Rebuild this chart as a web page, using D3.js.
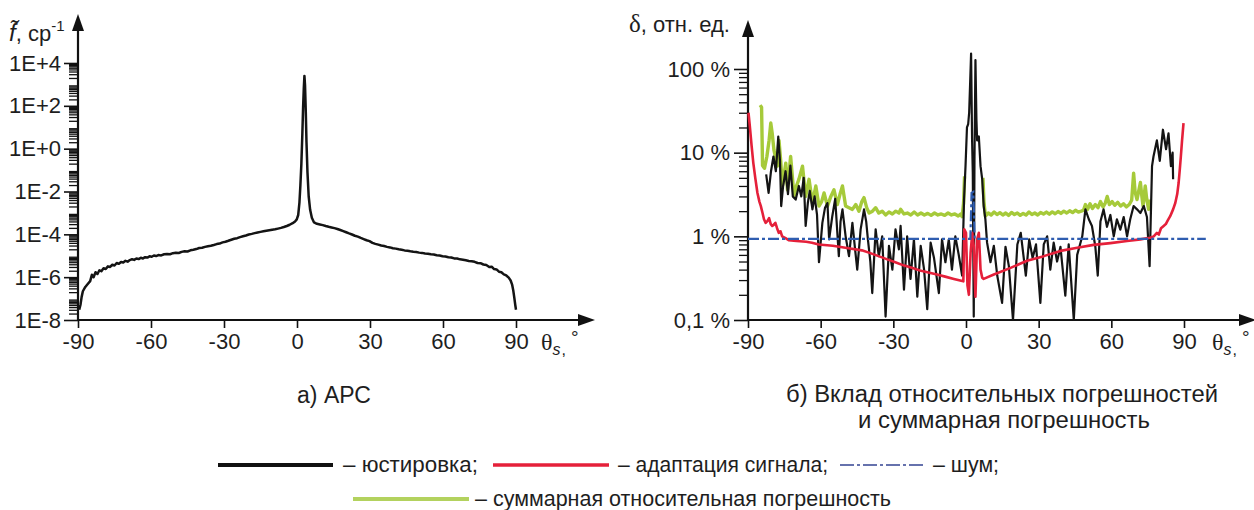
<!DOCTYPE html>
<html><head><meta charset="utf-8">
<script src="https://cdn.jsdelivr.net/npm/d3@7"></script>
<style>
html,body{margin:0;padding:0;background:#fff;}
svg{display:block;}
text{font-family:"Liberation Sans",Arial,Helvetica,sans-serif;fill:#1e1e1e;}
</style></head><body>
<svg id="chart" width="1254" height="510"></svg>
<script>
// ---------- data ----------
const xTicks = [-90, -60, -30, 0, 30, 60, 90];
const xTickLabels = ["-90", "-60", "-30", "0", "30", "60", "90"];
const apcTicks = [1e-8, 1e-6, 1e-4, 1e-2, 1, 1e2, 1e4];
const apcTickLabels = ["1E-8", "1E-6", "1E-4", "1E-2", "1E+0", "1E+2", "1E+4"];
const errTicks = [0.1, 1, 10, 100];
const errTickLabels = ["0,1 %", "1 %", "10 %", "100 %"];

// APC, sr^-1 vs theta_s, deg
const apc = [[-89.5,3.0e-8],[-89.0,5e-8],[-88.5,1.2e-7],[-88.0,2.2e-7],[-87.0,3.5e-7],[-86.0,4.8e-7],[-85.0,6.5e-7],[-84.3,1.3e-6],[-83.6,1.0e-6],[-82.8,1.7e-6],[-82.0,1.4e-6],[-81.2,2.1e-6],[-80.4,1.9e-6],[-79.5,2.6e-6],[-78.6,2.4e-6],[-77.7,3.2e-6],[-76.8,3.0e-6],[-75.9,3.8e-6],[-75.0,3.5e-6],[-74.1,4.6e-6],[-73.2,4.2e-6],[-72.3,5.1e-6],[-71.4,4.8e-6],[-70.5,5.8e-6],[-69.6,5.3e-6],[-68.7,6.3e-6],[-67.8,6.9e-6],[-66.9,6.4e-6],[-66.0,7.4e-6],[-65.1,7.0e-6],[-64.2,8.0e-6],[-63.3,7.5e-6],[-62.4,8.6e-6],[-61.5,8.2e-6],[-60.6,9.4e-6],[-59.7,9.0e-6],[-58.8,1.03e-5],[-57.9,9.7e-6],[-57.0,1.08e-5],[-55.8,1.04e-5],[-54.6,1.17e-5],[-53.4,1.22e-5],[-52.2,1.18e-5],[-51.0,1.32e-5],[-49.8,1.38e-5],[-48.6,1.35e-5],[-47.4,1.52e-5],[-46.2,1.62e-5],[-45.0,1.58e-5],[-43.8,1.80e-5],[-42.6,1.9e-5],[-41.4,2.05e-5],[-40.2,2.3e-5],[-39.0,2.35e-5],[-37.8,2.6e-5],[-36.6,2.8e-5],[-35.4,2.95e-5],[-34.2,3.2e-5],[-33.0,3.5e-5],[-31.8,3.7e-5],[-30.6,4.2e-5],[-29.4,4.5e-5],[-28.2,5.0e-5],[-27.0,5.6e-5],[-25.8,6.2e-5],[-24.6,6.6e-5],[-23.4,7.4e-5],[-22.2,8.1e-5],[-21.0,8.8e-5],[-19.8,9.8e-5],[-18.6,1.05e-4],[-17.4,1.14e-4],[-16.2,1.22e-4],[-15.0,1.3e-4],[-13.8,1.38e-4],[-12.6,1.46e-4],[-11.4,1.55e-4],[-10.2,1.65e-4],[-9.0,1.72e-4],[-7.8,1.85e-4],[-6.6,2.0e-4],[-5.4,2.2e-4],[-4.2,2.45e-4],[-3.0,2.8e-4],[-1.8,3.3e-4],[-0.8,4.0e-4],[-0.1,5.0e-4],[0.5,8e-4],[1.0,3e-3],[1.4,2e-2],[1.8,0.2],[2.2,5],[2.5,80],[2.8,700],[3.05,2500],[3.3,900],[3.6,60],[3.9,2],[4.3,0.08],[4.8,6e-3],[5.4,1.4e-3],[6.1,6e-4],[7.0,3.6e-4],[8.2,3.1e-4],[9.4,2.9e-4],[10.6,2.7e-4],[11.8,2.45e-4],[13.0,2.25e-4],[14.2,2.1e-4],[15.4,1.95e-4],[16.6,1.78e-4],[17.8,1.6e-4],[19.0,1.42e-4],[20.2,1.25e-4],[21.4,1.1e-4],[22.6,9.8e-5],[23.8,8.6e-5],[25.0,7.8e-5],[26.2,6.8e-5],[27.4,6.0e-5],[28.6,5.3e-5],[29.8,4.8e-5],[31.0,4.0e-5],[32.2,3.6e-5],[33.4,3.3e-5],[34.6,3.0e-5],[35.8,2.85e-5],[37.0,2.6e-5],[38.2,2.45e-5],[39.4,2.25e-5],[40.6,2.15e-5],[41.8,2.0e-5],[43.0,1.9e-5],[44.2,1.78e-5],[45.4,1.72e-5],[46.6,1.62e-5],[47.8,1.55e-5],[49.0,1.5e-5],[50.2,1.4e-5],[51.4,1.36e-5],[52.6,1.28e-5],[53.8,1.25e-5],[55.0,1.17e-5],[56.2,1.14e-5],[57.4,1.06e-5],[58.6,1.03e-5],[59.8,9.5e-6],[61.0,9.3e-6],[62.2,8.5e-6],[63.4,8.3e-6],[64.6,7.5e-6],[65.8,7.4e-6],[67.0,6.8e-6],[68.2,6.5e-6],[69.4,6.1e-6],[70.6,5.7e-6],[71.8,5.5e-6],[73.0,5.2e-6],[74.2,4.6e-6],[75.4,4.5e-6],[76.6,3.9e-6],[77.8,3.7e-6],[79.0,3.0e-6],[80.0,3.1e-6],[81.0,2.4e-6],[82.0,2.3e-6],[83.0,1.8e-6],[84.0,1.7e-6],[85.0,1.35e-6],[86.0,1.2e-6],[87.0,9.5e-7],[87.8,7e-7],[88.4,4.5e-7],[88.9,2.3e-7],[89.3,1.1e-7],[89.7,5e-8],[90.0,3e-8]];

// relative errors, %
const alignErr = [[-82.5,5.5],[-81.5,3.3],[-80.5,6],[-79.5,9],[-78.5,6],[-77.5,15.6],[-76.8,8],[-76.3,2.3],[-75.5,4],[-74.5,6],[-73.5,3.2],[-72.5,7],[-71.5,3],[-70.3,2.75],[-69,4],[-68,3],[-67,5],[-66.2,1.33],[-65.3,2.5],[-64.5,3.5],[-63.4,2.1],[-62.5,3],[-61.5,1.8],[-60.7,0.49],[-59.3,1.45],[-58.2,2.2],[-57.2,2.5],[-56.5,0.92],[-55.2,1.74],[-54,2.8],[-53.2,1.2],[-52.5,0.58],[-51.8,1.5],[-51,2.1],[-49.7,1.0],[-48.3,0.58],[-46.9,1.45],[-46,0.8],[-44.9,0.40],[-43.5,1.21],[-42.1,2.1],[-41.2,1.5],[-40.5,0.92],[-39.5,0.5],[-38.7,0.21],[-37.3,1.21],[-36,0.58],[-34.6,1.0],[-33.2,0.11],[-31.8,0.77],[-30.4,0.40],[-29.1,1.21],[-27.7,0.70],[-27.0,1.33],[-25.6,0.23],[-24.3,1.0],[-22.9,0.31],[-21.5,0.92],[-20.1,0.19],[-18.7,0.77],[-17.3,0.4],[-16,0.135],[-14.6,0.84],[-13.2,0.55],[-11.2,0.21],[-9.9,0.92],[-8.5,0.49],[-7.1,0.92],[-5.8,0.4],[-4.4,1.0],[-3.0,0.6],[-1.6,0.34],[-0.8,2.8],[-0.2,6.9],[0.4,20],[0.9,22],[1.3,30],[1.7,67],[2.1,153],[2.5,15],[2.8,5.8],[3.2,0.11],[3.5,8],[3.9,128],[4.3,25],[4.6,14],[5.3,15.6],[6.0,6.9],[6.7,4.8],[7.3,2.3],[8.0,1.6],[8.7,0.84],[10.1,0.49],[11.5,0.77],[12.9,0.34],[14.9,0.16],[16.3,0.75],[17.7,0.44],[19.4,0.1],[21.2,0.8],[22.6,1.1],[24.7,0.34],[26.1,0.92],[27.5,0.55],[28.9,0.8],[30.7,0.16],[32.1,0.8],[33.5,1.0],[34.8,0.4],[36.2,0.84],[37.6,0.5],[39,0.75],[41,0.195],[42.4,0.8],[44.5,0.1],[45.9,0.6],[48,1.0],[49.3,2.1],[50.7,1.6],[52,1.33],[53.4,0.75],[54.4,0.34],[55.5,1.5],[56.8,2.1],[58.2,1.3],[59.6,1.8],[61,1.0],[62.3,1.6],[63.7,1.2],[65.1,1.7],[66.5,1.0],[67.8,1.6],[69.2,2.3],[70.6,2.1],[72,1.9],[73.4,2.3],[74.7,1.7],[75.8,0.44],[76.8,6.9],[77.4,9],[78.8,14],[80,8],[81.3,18.8],[82.6,11],[83.6,17],[84.6,6.9],[85.3,10],[85.5,4.8]];

const adaptErr = [[-89.8,30],[-89.2,20],[-88.5,12],[-87.8,7.5],[-87,5],[-86.1,3.3],[-85.3,2.6],[-84.7,2.3],[-84,1.9],[-83.4,1.6],[-82.7,1.45],[-82,1.52],[-81.3,1.65],[-80.6,1.4],[-80,1.33],[-79.3,1.38],[-78.7,1.45],[-78,1.25],[-77.3,1.1],[-76.6,1.15],[-75.9,1.0],[-74.5,0.95],[-73.2,0.9],[-70,0.88],[-66,0.86],[-63.6,0.84],[-60.8,0.8],[-55,0.77],[-49.8,0.73],[-43,0.68],[-39.5,0.63],[-36.1,0.58],[-32.5,0.53],[-29.2,0.49],[-25.8,0.45],[-22.4,0.42],[-19,0.39],[-15.5,0.37],[-12,0.35],[-8.6,0.33],[-5,0.31],[-1.1,0.29],[-0.7,1.21],[0,1.1],[0.6,0.26],[1.2,0.2],[1.9,0.64],[2.6,1.1],[3.2,0.77],[3.9,0.19],[4.6,0.92],[5.3,1.1],[6.0,0.4],[6.7,0.32],[7.3,0.31],[11.5,0.35],[18.4,0.42],[25.2,0.51],[32.1,0.58],[39,0.67],[45.9,0.73],[52.7,0.79],[59.6,0.83],[66.5,0.88],[72,0.92],[74.5,0.95],[76,0.96],[77.5,1.0],[78.8,1.1],[79.6,1.05],[80.5,1.25],[81.6,1.33],[82.5,1.4],[83.3,1.55],[84.3,1.74],[85.5,2.1],[86.4,2.5],[87.2,3.2],[87.8,4.4],[88.3,6.5],[88.7,9],[89.2,14],[89.8,22.6]];

const noiseErr = [[-90,0.93],[1.8,0.93],[2.3,3.3],[3.0,3.4],[3.6,0.93],[99,0.93]];

const totalErrLeft = [[-85,37],[-84.4,35],[-84.0,7],[-83.2,6.5],[-82.2,9],[-81.3,14],[-80.6,22.6],[-80.0,17],[-79.3,10.8],[-77.9,6.9],[-77.2,14],[-76.5,8],[-75.8,4],[-74.4,7.5],[-73.7,3.6],[-72.4,9],[-71,3],[-70,4],[-69,4.8],[-67.5,6.9],[-66.2,3],[-64.8,4.8],[-63.4,2.5],[-62,4],[-60.7,2.3],[-59.6,2.6],[-58.6,3.3],[-57.2,2.3],[-55.8,3],[-54.5,3.6],[-53.1,2.4],[-52,3.2],[-51,4],[-49.7,2.3],[-48.3,2.2],[-46.9,2.1],[-45.5,2.4],[-44.2,2.0],[-43,2.6],[-42.1,2.9],[-41,2.2],[-40,1.9],[-38.6,2.0],[-37.3,2.2],[-36,1.9],[-34.6,2.0],[-33.2,1.8],[-31.8,1.95],[-30.4,1.85],[-29,2.0],[-27.7,1.9],[-27,2.1],[-25.6,1.85],[-24.2,1.9],[-22.8,1.8],[-21.4,1.95],[-20,1.8],[-18.6,1.9],[-17.2,1.8],[-15.8,1.88],[-14.4,1.78],[-13,1.9],[-11.6,1.8],[-10.2,1.85],[-8.8,1.78],[-7.4,1.9],[-6,1.8],[-4.6,1.85],[-3.2,1.75],[-2.2,1.85],[-1.6,1.72],[-1.0,2.5],[-0.6,5.2]];
const totalErrRight = [[7.0,5.0],[7.4,2.6],[8.0,1.75],[9.2,1.9],[10.4,1.8],[11.6,1.95],[12.8,1.82],[14.0,1.92],[15.2,1.8],[16.4,1.9],[17.6,1.78],[18.8,1.93],[20.0,1.82],[21.2,1.9],[22.4,1.78],[23.6,1.88],[24.8,1.8],[26.0,1.95],[27.2,1.82],[28.4,1.9],[29.6,1.8],[30.8,1.93],[32.0,1.85],[33.2,1.95],[34.4,1.84],[35.6,1.96],[36.8,1.86],[38.0,1.98],[39.2,1.88],[40.4,2.0],[41.6,1.9],[42.8,2.02],[44.0,1.92],[45.2,2.05],[46.4,1.95],[47.6,2.0],[48.5,2.05],[49.3,2.4],[50.2,2.1],[51.2,2.45],[52.2,2.15],[53.4,2.4],[54.5,2.2],[55.5,2.6],[56.6,2.25],[57.5,2.5],[58.3,3.0],[59.2,2.4],[60.3,2.6],[61.4,2.35],[62.6,2.55],[63.8,2.3],[65.0,2.45],[66.2,2.25],[67.4,2.4],[68.4,2.7],[69.2,5.7],[69.8,3.4],[70.6,2.75],[71.4,3.6],[72.0,4.4],[72.6,3.0],[73.1,2.3],[74.0,4.0],[74.6,2.8],[75.4,2.1],[76.0,2.75]];

const legendLabels = ["– юстировка;", "– адаптация сигнала;", "– шум;", "– суммарная относительная погрешность"];
const captionA = "а) АРС";
const captionB = ["б) Вклад относительных погрешностей", "и суммарная погрешность"];

// ---------- drawing ----------
const C = {black:"#141414", red:"#e5203a", green:"#a6ca3a", blue:"#2f5db0", axis:"#111"};
const svg = d3.select("#chart");
const X0 = 320; // x-axis line

const xL = d3.scaleLinear().domain([-90, 90]).range([78, 516]);
const yL = d3.scaleLog().domain([1e-8, 1e4]).range([X0, 63]);
const xR = d3.scaleLinear().domain([-90, 90]).range([748, 1184]);
const yR = d3.scaleLog().domain([0.1, 100]).range([X0, 69]);

function minorTicks(lo, hi){ const t=[]; for(let k=lo;k<hi;k++) for(let m=2;m<=9;m++) t.push(m*Math.pow(10,k)); return t; }

function styleAxis(g, fs){
  g.select(".domain").remove();
  g.selectAll(".tick line").attr("stroke", C.axis).attr("stroke-width", 1.6);
  g.selectAll(".tick text").attr("fill", "#1e1e1e").style("font-family", '"Liberation Sans",Arial,sans-serif').style("font-size", fs + "px");
}

function panel(x, y, ticksY, labelsY, minors, xTip, yTip, labelEndX){
  const ax = x.range()[0];
  const gm = svg.append("g").attr("transform", `translate(${ax},0)`)
    .call(d3.axisLeft(y).tickValues(minors).tickSize(9).tickFormat(""));
  styleAxis(gm, 10);
  gm.selectAll(".tick line").attr("stroke-width", 1.3);
  const gy = svg.append("g").attr("transform", `translate(${ax},0)`)
    .call(d3.axisLeft(y).tickValues(ticksY).tickSize(14).tickPadding(ax - 14 - labelEndX).tickFormat((d,i)=>labelsY[i]));
  styleAxis(gy, 22);
  const gx = svg.append("g").attr("transform", `translate(0,${X0})`)
    .call(d3.axisBottom(x).tickValues(xTicks).tickSize(8).tickPadding(5).tickFormat((d,i)=>xTickLabels[i]));
  styleAxis(gx, 22);
  svg.append("line").attr("x1", ax).attr("y1", X0).attr("x2", ax).attr("y2", yTip + 10)
    .attr("stroke", C.axis).attr("stroke-width", 2.2);
  svg.append("line").attr("x1", ax).attr("y1", X0).attr("x2", xTip - 10).attr("y2", X0)
    .attr("stroke", C.axis).attr("stroke-width", 2.2);
  svg.append("path").attr("d", `M${ax},${yTip} L${ax-6},${yTip+17} L${ax+6},${yTip+17} Z`).attr("fill", C.axis);
  svg.append("path").attr("d", `M${xTip},${X0} L${xTip-17},${X0-6} L${xTip-17},${X0+6} Z`).attr("fill", C.axis);
}

panel(xL, yL, apcTicks, apcTickLabels, minorTicks(-8, 4), 595, 14, 61);
panel(xR, yR, errTicks, errTickLabels, minorTicks(-1, 2), 1256, 20, 730);

// axis titles
function thetaLabel(x0){
  const t = svg.append("text").attr("x", x0).attr("y", 350).style("font-size", "24px");
  t.append("tspan").text("θ").style("font-family", '"Liberation Serif","DejaVu Serif",serif');
  t.append("tspan").text("s").attr("dy", 5).style("font-size", "16px").style("font-style", "italic");
  t.append("tspan").text(",").attr("dx", 1).style("font-size", "16px");
  t.append("tspan").text("°").attr("dx", 5).attr("dy", -11).style("font-size", "19px");
}
thetaLabel(541);
thetaLabel(1212);

// left y title: f~, ср^-1
const ft = svg.append("text").attr("x", 9).attr("y", 41).style("font-size", "22px");
ft.append("tspan").text("f\u0303").style("font-style", "italic").style("font-size", "24px");
ft.append("tspan").text(", ср");
ft.append("tspan").text("-1").attr("dy", -10).style("font-size", "15px");

// right y title
const dt = svg.append("text").attr("x", 629).attr("y", 32).style("font-size", "22px");
dt.append("tspan").text("δ").style("font-family", '"Liberation Serif","DejaVu Serif",serif').style("font-size", "25px");
dt.append("tspan").text(", отн. ед.");

// ---------- curves ----------
const lineL = d3.line().x(d => xL(d[0])).y(d => yL(d[1]));
const lineR = d3.line().x(d => xR(d[0])).y(d => yR(d[1]));

svg.append("path").attr("d", lineL(apc)).attr("fill", "none")
  .attr("stroke", C.black).attr("stroke-width", 2.5).attr("stroke-linejoin", "round");

[totalErrLeft, totalErrRight].forEach(s =>
  svg.append("path").attr("d", lineR(s)).attr("fill", "none")
    .attr("stroke", C.green).attr("stroke-width", 3.4).attr("stroke-linejoin", "round"));
svg.append("path").attr("d", lineR(alignErr)).attr("fill", "none")
  .attr("stroke", C.black).attr("stroke-width", 2.2).attr("stroke-linejoin", "round");
svg.append("path").attr("d", lineR(adaptErr)).attr("fill", "none")
  .attr("stroke", C.red).attr("stroke-width", 2.6).attr("stroke-linejoin", "round");
svg.append("path").attr("d", lineR(noiseErr)).attr("fill", "none")
  .attr("stroke", C.blue).attr("stroke-width", 2.2).attr("stroke-dasharray", "11,3,3,3");

// ---------- captions ----------
svg.append("text").attr("x", 334).attr("y", 403).attr("text-anchor", "middle")
  .style("font-size", "23px").text(captionA);
svg.append("text").attr("x", 1002).attr("y", 402).attr("text-anchor", "middle")
  .style("font-size", "23px").attr("textLength", 432).attr("lengthAdjust", "spacingAndGlyphs").text(captionB[0]);
svg.append("text").attr("x", 1004).attr("y", 428).attr("text-anchor", "middle")
  .style("font-size", "23px").attr("textLength", 292).attr("lengthAdjust", "spacingAndGlyphs").text(captionB[1]);

// ---------- legend ----------
const legend = [
  {x1:218, x2:333, y:465, color:"#111", w:4.2, dash:null, tx:343, tw:135, label:legendLabels[0]},
  {x1:493, x2:609, y:465, color:"#e5203a", w:3.6, dash:null, tx:618, tw:210, label:legendLabels[1]},
  {x1:840, x2:925, y:465, color:"#6672ad", w:2.2, dash:"14,3,3,3", tx:933, tw:66, label:legendLabels[2]},
  {x1:353, x2:469, y:499, color:"#b3d25e", w:4.2, dash:null, tx:475, tw:416, label:legendLabels[3]}
];
legend.forEach(l => {
  svg.append("line").attr("x1", l.x1).attr("x2", l.x2).attr("y1", l.y).attr("y2", l.y)
    .attr("stroke", l.color).attr("stroke-width", l.w).attr("stroke-dasharray", l.dash);
  svg.append("text").attr("x", l.tx).attr("y", l.y + 7).style("font-size", "22px")
    .attr("textLength", l.tw).attr("lengthAdjust", "spacingAndGlyphs").text(l.label);
});
</script>
</body></html>
